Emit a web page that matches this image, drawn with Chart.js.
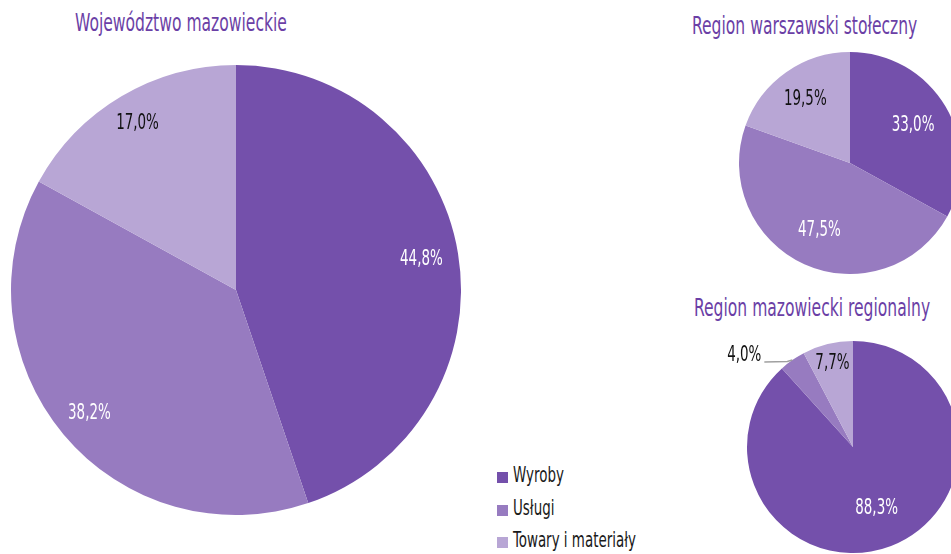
<!DOCTYPE html>
<html>
<head>
<meta charset="utf-8">
<script src="https://cdn.jsdelivr.net/npm/chart.js@4"></script>
<style>
  body { margin: 0; width: 951px; height: 554px; overflow: hidden; background: #fff; position: relative; }
  canvas { position: absolute; }
  .title, .legend-item span {
    position: absolute; white-space: nowrap; line-height: 1;
    font-family: "DejaVu Sans Condensed", "Liberation Sans Narrow", sans-serif;
    transform-origin: 0 0;
  }
  .title { color: #6b3fa6; font-size: 20px; transform: scale(0.865, 1.25); }
  .legend-item { position: absolute; }
  .legend-item i { position: absolute; left: 0; top: 0; width: 11px; height: 11px; }
  .legend-item span { left: 16px; top: -8px; font-size: 18px; color: #1a1a1a; transform: scale(0.83, 1.2); }
</style>
</head>
<body>
<div class="title" id="t1" style="left:75px;top:10px"></div>
<div class="title" id="t2" style="left:692px;top:13px"></div>
<div class="title" id="t3" style="left:694px;top:295px"></div>

<canvas id="pieMaz" width="450" height="450" style="left:11px;top:65px"></canvas>
<canvas id="pieWaw" width="222" height="222" style="left:739px;top:52px"></canvas>
<canvas id="pieReg" width="300" height="230" style="left:715px;top:330px"></canvas>

<div id="legend"></div>

<script>
// categories and shares (%)
const categories = ["Wyroby", "Usługi", "Towary i materiały"];
const titles = ["Województwo mazowieckie", "Region warszawski stołeczny", "Region mazowiecki regionalny"];
const mazowieckie = [44.8, 38.2, 17.0];
const warszawski = [33.0, 47.5, 19.5];
const regionalny = [88.3, 4.0, 7.7];

const sliceColors = ["#7450ab", "#977bc0", "#b8a6d5"];
const labelFont = '18px "DejaVu Sans Condensed", "Liberation Sans Narrow", sans-serif';

document.getElementById("t1").textContent = titles[0];
document.getElementById("t2").textContent = titles[1];
document.getElementById("t3").textContent = titles[2];

// legend built from the categories
const legend = document.getElementById("legend");
categories.forEach((cat, i) => {
  const item = document.createElement("div");
  item.className = "legend-item";
  item.style.left = "497px";
  item.style.top = (472 + i * 32.5) + "px";
  item.innerHTML = `<i style="background:${sliceColors[i]}"></i><span></span>`;
  item.querySelector("span").textContent = cat;
  legend.appendChild(item);
});

function fmt(v) {
  return v.toFixed(1).replace(".", ",") + "%";
}

// draws the percentage labels on top of the slices
const sliceLabels = {
  id: "sliceLabels",
  afterDatasetsDraw(chart, args, opts) {
    const ctx = chart.ctx;
    const meta = chart.getDatasetMeta(0);
    const data = chart.data.datasets[0].data;
    meta.data.forEach((arc, i) => {
      const mid = (arc.startAngle + arc.endAngle) / 2;
      const out = opts.outside && opts.outside[i];
      ctx.save();
      ctx.font = labelFont;
      ctx.fillStyle = opts.colors[i];
      ctx.textBaseline = "middle";
      let x, y;
      if (out) {
        const ex = arc.x + Math.cos(mid) * arc.outerRadius;
        const ey = arc.y + Math.sin(mid) * arc.outerRadius;
        ctx.strokeStyle = "#a0a0a0";
        ctx.lineWidth = 1.5;
        ctx.beginPath();
        ctx.moveTo(ex, ey);
        ctx.lineTo(ex - 5, ey + 1.5);
        ctx.lineTo(ex + out.dx, ey + out.dy);
        ctx.stroke();
        ctx.textAlign = "right";
        x = ex + out.dx - 3;
        y = ey + out.dy - 7;
      } else {
        const r = arc.outerRadius * opts.radius[i];
        x = arc.x + Math.cos(mid) * r;
        y = arc.y + Math.sin(mid) * r;
        ctx.textAlign = "center";
      }
      ctx.translate(x, y);
      ctx.scale(0.83, 1.22);
      ctx.fillText(fmt(data[i]), 0, 0);
      ctx.restore();
    });
  }
};

function makePie(id, values, padding, labelOpts) {
  return new Chart(document.getElementById(id), {
    type: "pie",
    data: {
      labels: categories,
      datasets: [{
        data: values,
        backgroundColor: sliceColors,
        borderWidth: 0,
        hoverOffset: 0
      }]
    },
    options: {
      responsive: false,
      devicePixelRatio: 1,
      animation: false,
      layout: { padding: padding },
      events: [],
      plugins: {
        legend: { display: false },
        tooltip: { enabled: false },
        sliceLabels: labelOpts
      }
    },
    plugins: [sliceLabels]
  });
}

makePie("pieMaz", mazowieckie, 0, {
  radius: [0.835, 0.85, 0.86],
  colors: ["#ffffff", "#ffffff", "#111111"]
});

makePie("pieWaw", warszawski, 0, {
  radius: [0.66, 0.67, 0.70],
  colors: ["#ffffff", "#ffffff", "#111111"]
});

makePie("pieReg", regionalny, { left: 32, top: 11, right: 56, bottom: 7 }, {
  radius: [0.62, 0.5, 0.81],
  colors: ["#ffffff", "#111111", "#111111"],
  outside: { 1: { dx: -28, dy: 2 } }
});
</script>
</body>
</html>
